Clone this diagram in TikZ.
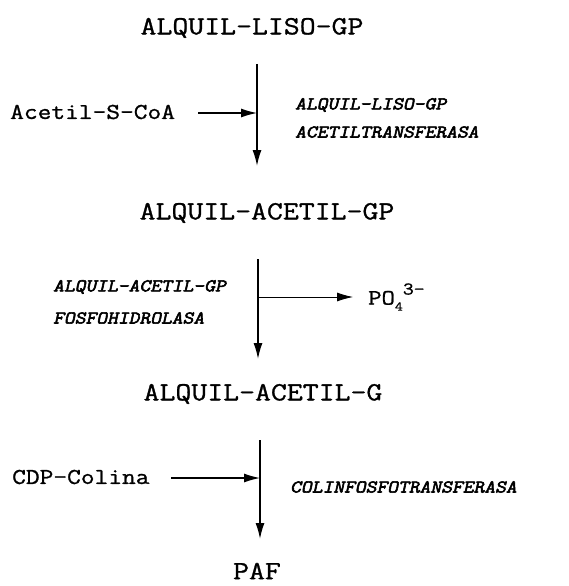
\documentclass[tikz,border=0pt]{standalone}
\usepackage{fontspec}
% typewriter faces, slightly widened to a Courier-like pitch
\newfontfamily\mono[FakeStretch=1.18,FakeBold=1.1]{Latin Modern Mono}
% heavy oblique typewriter face for the enzyme names
\newfontfamily\monoenz[FakeStretch=1.17,FakeBold=3.2,FakeSlant=0.22]{Latin Modern Mono}
\usetikzlibrary{arrows.meta}
\begin{document}
\begin{tikzpicture}[x=1pt,y=-1pt,
  compound/.style={inner sep=0pt,font=\mono\fontsize{26.2}{30}\selectfont},
  reagent/.style={inner sep=0pt,anchor=west,font=\mono\fontsize{22.6}{26}\selectfont},
  enzyme/.style={inner sep=0pt,anchor=west,font=\monoenz\fontsize{17.9}{21}\selectfont},
  flow/.style={line width=1.5pt,-{Latex[length=16pt,width=9pt]}},
  side/.style={line width=1.2pt,-{Latex[length=16pt,width=9pt]}},
  thin side/.style={line width=0.8pt,-{Latex[length=16pt,width=9pt]}}]
\useasboundingbox (0,0) rectangle (569,586);

% main pathway compounds
\node[compound] (c1) at (252,28) {ALQUIL-LISO-GP};
\node[compound] (c2) at (267,213) {ALQUIL-ACETIL-GP};
\node[compound] (c3) at (263,394) {ALQUIL-ACETIL-G};
\node[compound] (c4) at (257,571) {PAF};

% step 1: acetylation
\coordinate (a1s) at (257,64);
\coordinate (a1e) at (257,166);
\coordinate (j1) at (257,113);
\draw[flow] (a1s) -- (a1e);
\node[reagent] (acoa) at (10,112) {Acetil-S-CoA};
\coordinate (h1s) at (198,113);
\draw[side] (h1s) -- (j1);
\node[enzyme] (e1a) at (295,105) {ALQUIL-LISO-GP};
\node[enzyme] (e1b) at (295,132) {ACETILTRANSFERASA};

% step 2: dephosphorylation
\coordinate (a2s) at (258,259);
\coordinate (a2e) at (258,359);
\coordinate (j2) at (258,297);
\draw[flow] (a2s) -- (a2e);
\node[enzyme] (e2a) at (53,287) {ALQUIL-ACETIL-GP};
\node[enzyme] (e2b) at (53,318) {FOSFOHIDROLASA};
\coordinate (h2e) at (353,297);
\draw[thin side] (j2) -- (h2e);
\node[inner sep=0pt,anchor=west,font=\mono\fontsize{22}{24}\selectfont] (po4) at (368,297)
  {PO\raisebox{-6pt}{\fontsize{13}{14}\selectfont 4}\raisebox{10pt}{\fontsize{18}{20}\selectfont 3-}};

% step 3: choline transfer
\coordinate (a3s) at (260,440);
\coordinate (a3e) at (260,539);
\coordinate (j3) at (260,478);
\draw[flow] (a3s) -- (a3e);
\node[reagent] (cdp) at (12,477) {CDP-Colina};
\coordinate (h3s) at (171,478);
\draw[side] (h3s) -- (j3);
\node[enzyme] (e3) at (290,487) {COLINFOSFOTRANSFERASA};
\end{tikzpicture}
\end{document}
